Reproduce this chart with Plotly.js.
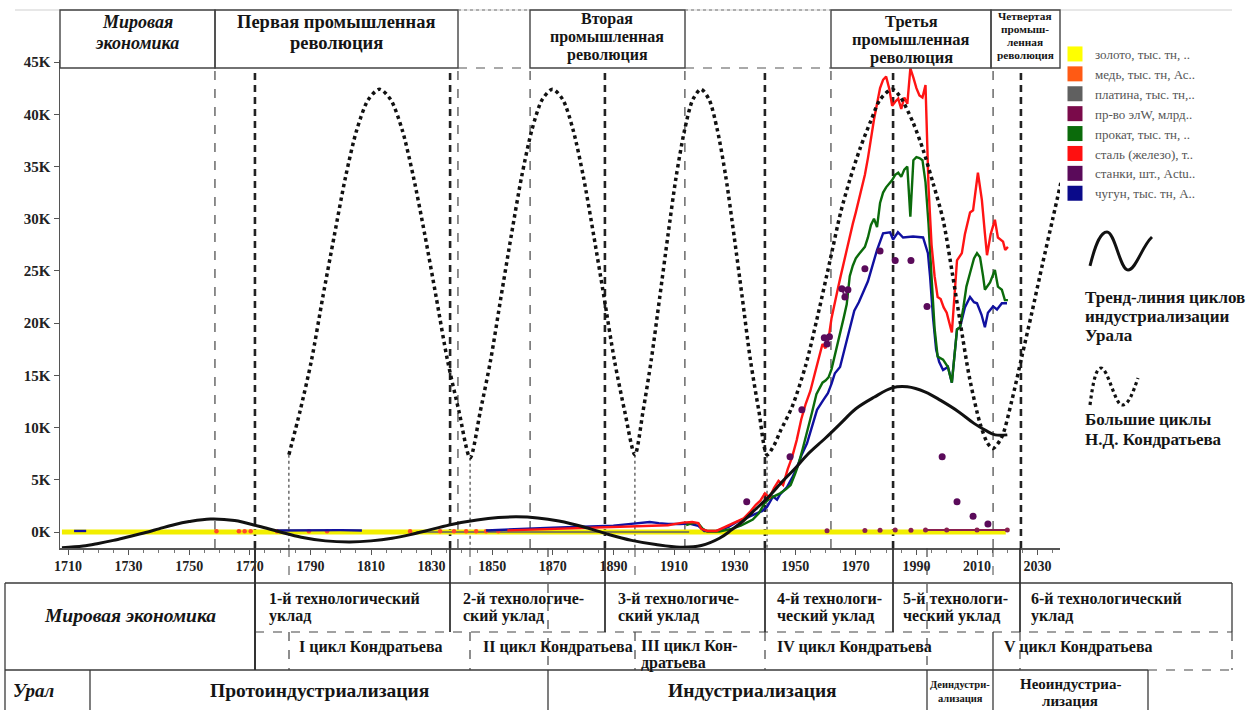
<!DOCTYPE html>
<html><head><meta charset="utf-8">
<script src="https://cdn.plot.ly/plotly-3.0.1.min.js"></script>
<style>html,body{margin:0;padding:0;background:#fff}#chart{width:1254px;height:710px}</style>
</head><body><div id="chart"></div>
<script>
// ---------------- DATA (values in units; axis shows thousands as "K") ----------------
const xTickYears = [1710,1730,1750,1770,1790,1810,1830,1850,1870,1890,1910,1930,1950,1970,1990,2010,2030];
const yTickVals = [0,5000,10000,15000,20000,25000,30000,35000,40000,45000];
const yTickText = ['0K','5K','10K','15K','20K','25K','30K','35K','40K','45K'];

const legendNames = ['золото, тыс. тн, ..','медь, тыс. тн, Ас..','платина, тыс. тн,..','пр-во элW, млрд..','прокат, тыс. тн, ..','сталь (железо), т..','станки, шт., Actu..','чугун, тыс. тн, A..'];
const legendColors = ['#FFFF00','#FF5A14','#606060','#7A0A4A','#0B6B0B','#FF1010','#5A0A5A','#0A0A8A'];

// gold (золото)
const goldYears = [1708,1750,1800,1850,1900,1950,2000,2019.5];
const goldVals  = [0,0,0,0,0,0,0,0];
// copper (медь) – scattered early dots
const copperYears = [1759,1766.4,1768.3,1770.3,1779,1789.5,1795.5,1822.9,1832.8,1837.4,1841.4,1844.7,1848,1852];
const copperVals  = [60,60,60,60,60,60,60,60,60,60,60,60,60,60];
// platinum (платина)
const platinumYears = [1825,1850,1880,1915];
const platinumVals  = [0,0,0,0];
// electric power (пр-во элW)
const elwYears = [1960.5,null,1973,null,1978,null,1983,null,1988.2,null,1993,2000,2010,2020];
const elwVals  = [120,null,150,null,170,null,180,null,170,null,180,190,200,200];
// rolled steel (прокат)
const rolledYears = [1914,1916,1918,1919.5,1921,1925,1929,1932,1934,1936,1938,1940,1941.5,1943,1945,1947,1948.5,1950,1951,1952.5,1954,1955.5,1957,1958,1959,1960,1961,1962,1963,1964,1965,1966,1967,1968,1969,1970,1971,1972,1973,1974,1975,1976,1977,1978,1979,1980,1981,1982,1983,1984,1985,1986,1987,1988,1989,1990,1991,1992,1993,1994,1995,1996,1997,1998.8,2000.4,2001.7,2003.4,2004.4,2005.5,2006.5,2007.7,2009,2010,2011,2012,2012.6,2014.3,2015.9,2016.9,2018.2,2019.2,2020.2];
const rolledVals  = [650,850,850,300,50,50,300,600,900,1200,1800,2800,3200,3400,3700,4100,4500,5600,6400,8000,9600,11400,13200,13800,14300,14500,14800,15600,16800,17800,19300,20500,21800,24500,25500,26200,26600,27000,27300,28200,29400,30000,29200,31500,32500,33000,33300,33700,34200,34400,34000,34700,35000,30200,35600,35900,35800,35600,33500,29500,24400,19500,16800,16500,15800,14300,19400,19600,21500,23500,24800,26200,26700,26300,24500,23200,23900,25100,23500,23200,22200,22200];
// steel (сталь)
const steelYears = [1855,1860,1865,1870,1875,1880,1885,1890,1895,1900,1905,1908,1911,1913,1916,1918,1919,1921,1924,1927,1929,1931,1933,1935,1937,1938.5,1940,1941.5,1943,1944.5,1946,1947.5,1949,1950.5,1952,1953.5,1955,1956.5,1958,1959,1960,1961,1962,1963,1964,1965,1966,1967,1968,1969,1970,1971,1972,1973,1974,1975,1976,1977,1978,1979,1980,1981,1982,1983,1984,1985,1986,1987,1988,1989,1990,1991,1992,1993,1994,1995,1996,1997,1998,1999,2000,2001.7,2003.4,2005,2006,2007.7,2008.7,2010.3,2011.6,2012.6,2013.3,2014.5,2015.9,2016.9,2018.6,2019.3,2020.2];
const steelVals  = [150,200,200,250,300,350,400,450,500,550,600,650,800,900,950,850,300,100,100,500,800,1100,1300,1900,2600,3000,3700,3300,4200,4900,4500,6000,7200,8800,10800,12300,13500,15200,17000,18000,17600,18500,20500,22000,23200,24500,25800,27200,28300,29500,30600,31800,33000,34200,35800,37800,39500,41000,42500,43300,43600,42500,40800,41200,41500,40500,41600,41000,44400,43500,42500,41800,41600,42800,33000,27500,24500,22500,22300,21500,21000,19100,26000,26700,28500,30600,30800,34400,31800,28600,26500,28500,29900,28200,27800,27000,27300];
// machine tools (станки)
const toolsYears = [1934,null,1948.3,null,1952.2,null,1959.6,1960.5,1961.3,null,1965.4,1966.4,1967.4,null,1973,null,1978,null,1983,null,1988.2,null,1993.5,null,1998.5,null,2003.4,null,2008.7,null,2013.6];
const toolsVals  = [2900,null,7200,null,11700,null,18600,18000,18700,null,23300,22500,23200,null,25200,null,26900,null,26000,null,26000,null,21600,null,7200,null,2900,null,1500,null,770];
// pig iron (чугун)
const ironYears = [1712,1716,null,1779,1790,1800,1807,null,1848,1855,1860,1865,1870,1875,1880,1885,1890,1895,1900,1902,1905,1908,1912,1915,1918,1920,1924,1928,1931,1933,1935,1937.4,1939,1940.7,1942.7,1944,1945,1947.3,1949,1950.6,1952,1953.9,1955.5,1957.2,1959.2,1960.8,1962,1963.1,1964.8,1966.5,1968,1969.5,1971,1972.4,1974,1975,1977,1979,1981.3,1982.3,1983.9,1985.6,1988.9,1992.2,1993.8,1994.5,1995.5,1996.5,1997.5,1998.8,2000.4,2001.7,2003.4,2004.4,2006,2007.7,2009,2010,2011.5,2012.6,2013.6,2015.3,2016.6,2018.2,2019.9];
const ironVals  = [100,100,null,150,180,180,150,null,150,250,300,350,400,450,500,500,600,750,850,960,850,770,770,800,600,100,100,500,1000,1200,1500,1800,2000,2400,3400,3100,3600,4300,5200,6200,7300,8500,10000,11700,12600,13300,14200,15200,15800,17800,19500,21200,22000,22900,24000,25000,27000,28600,28700,28000,28700,28200,28300,28200,26700,24500,20500,17500,16300,15500,15800,14300,19400,19600,21500,22500,22000,21900,20800,19600,21000,21600,21300,21900,21900];
// Urals industrialization trend line
const trendYears = [1708,1715,1720,1725,1730,1735,1740,1745,1750,1757,1765,1773,1780,1787,1795,1803,1810,1817,1823,1830,1837,1845,1852,1858,1865,1872,1880,1888,1896,1904,1912,1919,1925,1929,1933,1937,1941,1946,1950,1954,1960,1965,1970,1976,1982,1987,1993,1998,2004,2009,2013,2016,2020];
const trendVals  = [-1500,-1350,-1100,-800,-450,-100,300,700,1000,1250,1100,550,0,-500,-850,-950,-850,-600,-250,250,750,1150,1380,1450,1350,1050,500,-200,-800,-1200,-1450,-1300,-600,200,1100,2200,3300,4900,6100,7400,9000,10400,11800,12900,13800,13900,13400,12600,11500,10400,9700,9300,9300];
// Kondratiev long waves
const kondYears = [1782.9,1786.6,1790.4,1794.1,1797.9,1801.6,1805.3,1809.1,1812.8,1816.5,1820.3,1824,1827.8,1831.5,1835.2,1839,1842.7,1846.1,1849.5,1852.9,1856.3,1859.7,1863.1,1866.5,1869.9,1873.3,1876.7,1880.1,1883.5,1886.9,1890.3,1893.7,1897.1,1899.8,1902.5,1905.3,1908,1910.7,1913.5,1916.2,1918.9,1921.6,1924.3,1927.1,1929.8,1932.5,1935.2,1938,1940.7,1943,1945,1949,1953.5,1957.5,1961.5,1965,1968,1971.5,1975,1978,1982,1984.6,1988.9,1992.2,1995.5,1998.8,2002,2004.5,2007.5,2011,2013.5,2015.3,2018.2,2021.5,2024.8,2028.1,2031.5,2035,2038.5];
const kondVals  = [7400,11600,16500,22500,28400,34000,38500,41400,42400,41400,38500,34000,28400,22500,16500,11600,7100,11600,16500,22500,28400,34000,38500,41400,42400,41400,38500,34000,28400,22500,16500,11600,7400,11600,16500,22500,28400,34000,38500,41400,42400,41400,38500,34000,28400,22500,16500,11600,7400,8300,9600,12000,16000,20800,26000,30600,33700,36800,39400,41400,42400,41700,39200,36600,33400,29900,24500,20000,14800,10400,8500,8000,9100,12600,16800,21000,25500,30000,34500];
// period boundaries
const revolutionEdges = [1758.5,1838.7,1862.5,1913.6,1961.8,2015.3];
const techModeEdges   = [1771.7,1836.1,1887.2,1940.0,1982.3,2024.5];
const kondTroughs     = [1782.9,1842.7,1897.1,1940.7];

// ---------------- GEOMETRY HELPERS ----------------
const L=60, R=1060, T=60, B=548, W=R-L, H=B-T;
const YMIN=-1532, YMAX=45194;
const px = x => (x-L)/W;
const py = y => (B-y)/H;
const FONT = '"Liberation Serif", "Times New Roman", Times, serif';
const INK = '#3a3a3a';

function seg(x0,y0,x1,y1,color,width,dash){
  return {type:'line',xref:'paper',yref:'paper',x0:px(x0),y0:py(y0),x1:px(x1),y1:py(y1),
          line:{color:color||INK,width:width||1.3,dash:dash||'solid'},layer:'above'};
}
function vline(year,y0,y1,color,width,dash,layer){
  return {type:'line',xref:'x',yref:'paper',x0:year,x1:year,y0:py(y0),y1:py(y1),
          line:{color:color,width:width,dash:dash},layer:layer||'above'};
}
function txt(t,x,y,size,anchor,extra){
  return Object.assign({xref:'paper',yref:'paper',x:px(x),y:py(y),text:t,showarrow:false,
    xanchor:anchor||'center',yanchor:'middle',borderpad:0,
    font:{family:FONT,size:size,color:'#151515'}},extra||{});
}

// ---------------- TRACES ----------------
const traces = [];
traces.push({x:goldYears,y:goldVals,mode:'lines',line:{color:'#F2EE00',width:5},showlegend:false,hoverinfo:'skip'});
traces.push({x:platinumYears,y:platinumVals,mode:'lines',line:{color:legendColors[2],width:1.5},showlegend:false,hoverinfo:'skip'});
traces.push({x:copperYears,y:copperVals,mode:'markers',marker:{color:'#FF4A2A',size:4.5},showlegend:false,hoverinfo:'skip'});
traces.push({x:elwYears,y:elwVals,mode:'lines+markers',connectgaps:false,line:{color:'#8A2050',width:2},marker:{color:'#8A2050',size:5},showlegend:false,hoverinfo:'skip'});
traces.push({x:ironYears,y:ironVals,mode:'lines',connectgaps:false,line:{color:'#1010A0',width:2.4},showlegend:false,hoverinfo:'skip'});
traces.push({x:rolledYears,y:rolledVals,mode:'lines',line:{color:'#0B6B0B',width:2.4},showlegend:false,hoverinfo:'skip'});
traces.push({x:steelYears,y:steelVals,mode:'lines',line:{color:'#FF1414',width:2.4},showlegend:false,hoverinfo:'skip'});
traces.push({x:toolsYears,y:toolsVals,mode:'lines+markers',connectgaps:false,line:{color:'#6A1A6A',width:2},marker:{color:'#5A0A5A',size:7},showlegend:false,hoverinfo:'skip'});
traces.push({x:trendYears,y:trendVals,mode:'lines',line:{color:'#111',width:3,shape:'spline',smoothing:1},showlegend:false,hoverinfo:'skip'});
traces.push({x:kondYears,y:kondVals,mode:'lines',line:{color:'#111',width:3.5,dash:'dot',shape:'spline',smoothing:0.8},showlegend:false,hoverinfo:'skip'});
legendNames.forEach((n,i)=>{
  traces.push({x:[null],y:[null],mode:'markers',name:n,marker:{symbol:'square',size:15,color:legendColors[i]},hoverinfo:'skip'});
});

// ---------------- SHAPES ----------------
const shapes = [];
revolutionEdges.forEach(yr=>shapes.push(vline(yr,548,68,'#333',1.1,'dash','below')));
techModeEdges.forEach(yr=>shapes.push(vline(yr,548,68,'#222',2.6,'7px,5px','below')));
kondTroughs.forEach(yr=>{
  const v = kondVals[kondYears.indexOf(yr)];
  shapes.push({type:'line',xref:'x',yref:'paper',x0:yr,x1:yr,y0:(v-YMIN)/(YMAX-YMIN),y1:0,line:{color:'#333',width:1.1,dash:'3px,3px'},layer:'below'});
});
// top header
shapes.push(seg(15,10,1232,10,'#cfcfcf',1.2));
[[60,215],[215,458],[530,685],[831,991],[991,1060]].forEach(b=>{
  shapes.push({type:'rect',xref:'paper',yref:'paper',x0:px(b[0]),x1:px(b[1]),y0:py(68),y1:py(10),line:{color:'#444',width:1.4},fillcolor:'rgba(0,0,0,0)'});
});
[[458,530],[685,831]].forEach(b=>{
  shapes.push(seg(b[0],10,b[1],10,'#777',1.2,'dot'));
  shapes.push(seg(b[0],68,b[1],68,'#555',1.2,'dash'));
});
// explanation icons (decorations)
const P = (x,y)=>px(x).toFixed(4)+','+py(y).toFixed(4);
shapes.push({type:'path',xref:'paper',yref:'paper',line:{color:'#111',width:3},
  path:'M'+P(1090,266)+' C'+P(1096,242)+' '+P(1101,232)+' '+P(1107,232)+' C'+P(1115,232)+' '+P(1120,270)+' '+P(1128,270)+' C'+P(1136,270)+' '+P(1142,246)+' '+P(1152,237)});
shapes.push({type:'path',xref:'paper',yref:'paper',line:{color:'#111',width:3.2,dash:'dot'},
  path:'M'+P(1090,405)+' C'+P(1093,382)+' '+P(1096,368)+' '+P(1101,368)+' C'+P(1108,368)+' '+P(1115,405)+' '+P(1122,405)+' C'+P(1129,405)+' '+P(1133,392)+' '+P(1138,378)});
// bottom table
shapes.push(seg(5,583,1232,583));
shapes.push(seg(255,632,1232,632,'#444',1.2,'dash'));
shapes.push(seg(5,670,1148,670));
shapes.push(seg(1148,670,1232,670,'#444',1.2,'dash'));
shapes.push(seg(5,583,5,710));
shapes.push(seg(1232,583,1232,632));
shapes.push(seg(1232,632,1232,670,'#444',1.2,'dash'));
shapes.push(seg(90,670,90,710));
shapes.push(seg(255,548,255,670,'#333',2));
[450,605,765,893,1020].forEach(x=>shapes.push(seg(x,548,x,632,'#333',1.8)));
[765,1020].forEach(x=>shapes.push(seg(x,632,x,670,'#444',1.2,'dash')));
[289,470,635].forEach(x=>{shapes.push(seg(x,548,x,583,'#444',1,'dash'));shapes.push(seg(x,632,x,670,'#444',1.2,'dash'));});
[548,927].forEach(x=>{shapes.push(seg(x,548,x,670,'#444',1.2,'dash'));shapes.push(seg(x,670,x,710));});
shapes.push(seg(993,548,993,583,'#444',1,'dash'));
shapes.push(seg(993,632,993,710));
shapes.push(seg(1148,670,1148,710));

// ---------------- ANNOTATIONS ----------------
const ann = [];
const bi = s=>'<b><i>'+s+'</i></b>', b = s=>'<b>'+s+'</b>';
ann.push(txt(bi('Мировая'),137,22,18), txt(bi('экономика'),137,43,18));
ann.push(txt(b('Первая промышленная'),336,22,18.5), txt(b('революция'),336,43,18.5));
ann.push(txt(b('Вторая'),607,19,16), txt(b('промышленная'),607,37,16), txt(b('революция'),607,55,16));
ann.push(txt(b('Третья'),911,21,16.5), txt(b('промышленная'),911,39,16.5), txt(b('революция'),911,57,16.5));
ann.push(txt(b('Четвертая'),1025,16,11.3), txt(b('промыш-'),1025,29,11.3), txt(b('ленная'),1025,42,11.3), txt(b('революция'),1025,55,11.3));
// right side explanations
ann.push(txt(b('Тренд-линия циклов'),1084,297,17,'left'), txt(b('индустриализации'),1084,316,17,'left'), txt(b('Урала'),1084,335,17,'left'));
ann.push(txt(b('Большие циклы'),1084,420,17,'left'), txt(b('Н.Д. Кондратьева'),1084,439,17,'left'));
// table row 1/2
ann.push(txt(bi('Мировая экономика'),130,615,19.5));
const r1 = [[268,'1-й технологический','уклад'],[462,'2-й технологиче-','ский уклад'],[617,'3-й технологиче-','ский уклад'],[776,'4-й технологи-','ческий уклад'],[902,'5-й технологи-','ческий уклад'],[1030,'6-й технологический','уклад']];
r1.forEach(r=>{ann.push(txt(b(r[1]),r[0],598,16,'left'), txt(b(r[2]),r[0],616,16,'left'));});
ann.push(txt(b('I цикл Кондратьева'),298,647,16,'left'));
ann.push(txt(b('II цикл Кондратьева'),482,647,16,'left'));
ann.push(txt(b('III цикл Кон-'),640,645,16,'left'), txt(b('дратьева'),640,663,16,'left'));
ann.push(txt(b('IV цикл Кондратьева'),776,647,16,'left'));
ann.push(txt(b('V цикл Кондратьева'),1003,647,16,'left'));
// table row 3
ann.push(txt(bi('Урал'),12,690,19,'left'));
ann.push(txt(b('Протоиндустриализация'),320,690,19.5));
ann.push(txt(b('Индустриализация'),752,690,19.5));
ann.push(txt(b('Деиндустри-'),960,684,10.5), txt(b('ализация'),960,698,10.5));
ann.push(txt(b('Неоиндустриа-'),1070,684,15), txt(b('лизация'),1070,701,15));

// ---------------- LAYOUT ----------------
const layout = {
  width:1254, height:710,
  margin:{l:L,r:1254-R,t:T,b:710-B,pad:0},
  paper_bgcolor:'#fff', plot_bgcolor:'#fff',
  showlegend:true, hovermode:false,
  font:{family:FONT,color:'#333'},
  xaxis:{range:[1707.36,2037.39],showgrid:false,zeroline:false,showline:true,linecolor:'#555',linewidth:1.5,
         ticks:'outside',ticklen:5,tickcolor:'#555',tickvals:xTickYears,ticktext:xTickYears.map(String),
         tickfont:{family:FONT,size:14,color:'#222',weight:'bold'},
         minor:{dtick:5,tick0:1710,ticks:'outside',ticklen:3,tickcolor:'#777'}},
  yaxis:{range:[YMIN,YMAX],showgrid:false,zeroline:false,showline:true,linecolor:'#555',linewidth:1.5,
         ticks:'outside',ticklen:5,tickcolor:'#555',tickvals:yTickVals,ticktext:yTickText,
         tickfont:{family:FONT,size:15,color:'#222',weight:'bold'}},
  legend:{x:px(1055),y:py(39),xanchor:'left',yanchor:'top',bgcolor:'rgba(0,0,0,0)',borderwidth:0,
          font:{family:FONT,size:13,color:'#555'},tracegroupgap:0,itemwidth:30},
  shapes:shapes, annotations:ann
};
Plotly.newPlot('chart',traces,layout,{displayModeBar:false,staticPlot:true});
</script></body></html>
